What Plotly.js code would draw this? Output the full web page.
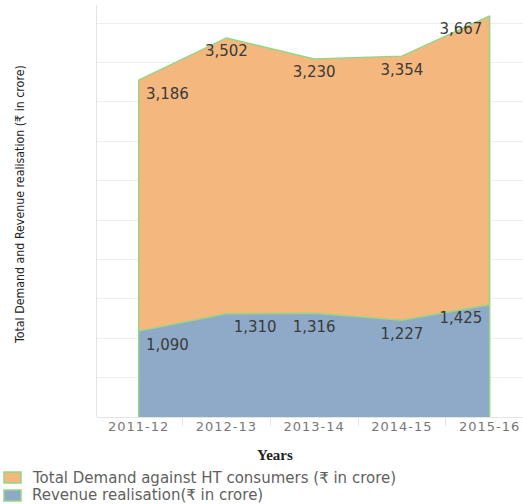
<!DOCTYPE html>
<html>
<head>
<meta charset="utf-8">
<script src="https://cdn.plot.ly/plotly-3.0.1.min.js"></script>
<style>
html,body{margin:0;padding:0;background:#fff;}
#chart{width:523px;height:504px;}
.xtick text{letter-spacing:1px;}
</style>
</head>
<body>
<div id="chart"></div>
<script>
// Data
var years = ["2011-12", "2012-13", "2013-14", "2014-15", "2015-16"];
var revenue = [1090, 1310, 1316, 1227, 1425];
var demand = [3186, 3502, 3230, 3354, 3667];
var demandName = "Total Demand against HT consumers (\u20b9 in crore)";
var revenueName = "Revenue realisation(\u20b9 in crore)";
var yTitle = "Total Demand and Revenue realisation (\u20b9 in crore)";
var xTitle = "Years";

function fmt(v){ return v.toLocaleString("en-US"); }

var W = 523, H = 504, ML = 97, MR = 0, MT = 5, MB = 87;
var PW = W - ML - MR, PH = H - MT - MB;
function px(x){ return (x - ML) / PW; }
function py(y){ return (H - MB - y) / PH; }

var orange = "#F4B77E";
var blue = "#8EAAC8";
var green = "#95D585";
var labelColor = "#3a3a3a";

var revPos = ["bottom right", "bottom right", "bottom center", "bottom center", "bottom left"];
var demPos = ["bottom right", "bottom center", "bottom center", "bottom center", "bottom left"];

var traces = [
  {
    x: years, y: revenue, name: revenueName, type: "scatter",
    mode: "lines+markers+text", stackgroup: "one",
    fillcolor: blue, line: {color: green, width: 1.5},
    marker: {size: 10, opacity: 0},
    text: revenue.map(fmt), textposition: revPos,
    textfont: {family: "DejaVu Sans", size: 15, color: labelColor},
    hoverinfo: "skip"
  },
  {
    x: years, y: demand, name: demandName, type: "scatter",
    mode: "lines+markers+text", stackgroup: "one",
    fillcolor: orange, line: {color: green, width: 1.5},
    marker: {size: 10, opacity: 0},
    text: demand.map(fmt), textposition: demPos,
    textfont: {family: "DejaVu Sans", size: 15, color: labelColor},
    hoverinfo: "skip"
  }
];

var last = years.length - 1;
var shapes = [
  {type: "line", xref: "x", yref: "y", x0: years[0], x1: years[0], y0: 0, y1: revenue[0] + demand[0], line: {color: green, width: 1.5}},
  {type: "line", xref: "x", yref: "y", x0: years[last], x1: years[last], y0: 0, y1: revenue[last] + demand[last], line: {color: green, width: 1.5}},
  {type: "rect", xref: "paper", yref: "paper", x0: px(4), x1: px(21), y0: py(483), y1: py(472), fillcolor: orange, line: {color: green, width: 1.5}},
  {type: "rect", xref: "paper", yref: "paper", x0: px(4), x1: px(21), y0: py(501), y1: py(490), fillcolor: blue, line: {color: green, width: 1.5}}
];

var annotations = [
  {text: demandName, xref: "paper", yref: "paper", x: px(30), y: py(478), xanchor: "left", yanchor: "middle", showarrow: false, font: {family: "DejaVu Sans", size: 15, color: "#5f5f5f"}},
  {text: revenueName, xref: "paper", yref: "paper", x: px(30), y: py(495), xanchor: "left", yanchor: "middle", showarrow: false, font: {family: "DejaVu Sans", size: 15, color: "#5f5f5f"}},
  {text: "<b>" + xTitle + "</b>", xref: "paper", yref: "paper", x: px(275), y: py(455), xanchor: "center", yanchor: "middle", showarrow: false, font: {family: "Liberation Serif", size: 15, color: "#222"}},
  {text: yTitle, xref: "paper", yref: "paper", x: px(20), y: py(205), xanchor: "center", yanchor: "middle", textangle: -90, showarrow: false, font: {family: "Liberation Sans Narrow, DejaVu Sans Condensed, DejaVu Sans", size: 12.3, color: "#222"}}
];

var layout = {
  width: W, height: H,
  margin: {l: ML, r: MR, t: MT, b: MB, pad: 0},
  paper_bgcolor: "#fff", plot_bgcolor: "#fff",
  showlegend: false,
  xaxis: {
    type: "category", range: [-0.475, 4.38],
    showgrid: false, zeroline: false,
    showline: false,
    ticks: "outside", tickson: "boundaries", ticklen: 8, tickcolor: "#e4e4e4", tickwidth: 1,
    tickfont: {family: "DejaVu Sans", size: 13, color: "#777"},
    fixedrange: true
  },
  yaxis: {
    range: [0, 5230], dtick: 500, tick0: 0,
    showticklabels: false, ticks: "",
    showgrid: true, gridcolor: "#eeeeee", gridwidth: 1,
    zeroline: true, zerolinecolor: "#e4e4e4", zerolinewidth: 1,
    showline: true, linecolor: "#e4e4e4", linewidth: 1,
    fixedrange: true
  },
  shapes: shapes,
  annotations: annotations
};

Plotly.newPlot("chart", traces, layout, {displayModeBar: false, staticPlot: true});
</script>
</body>
</html>
